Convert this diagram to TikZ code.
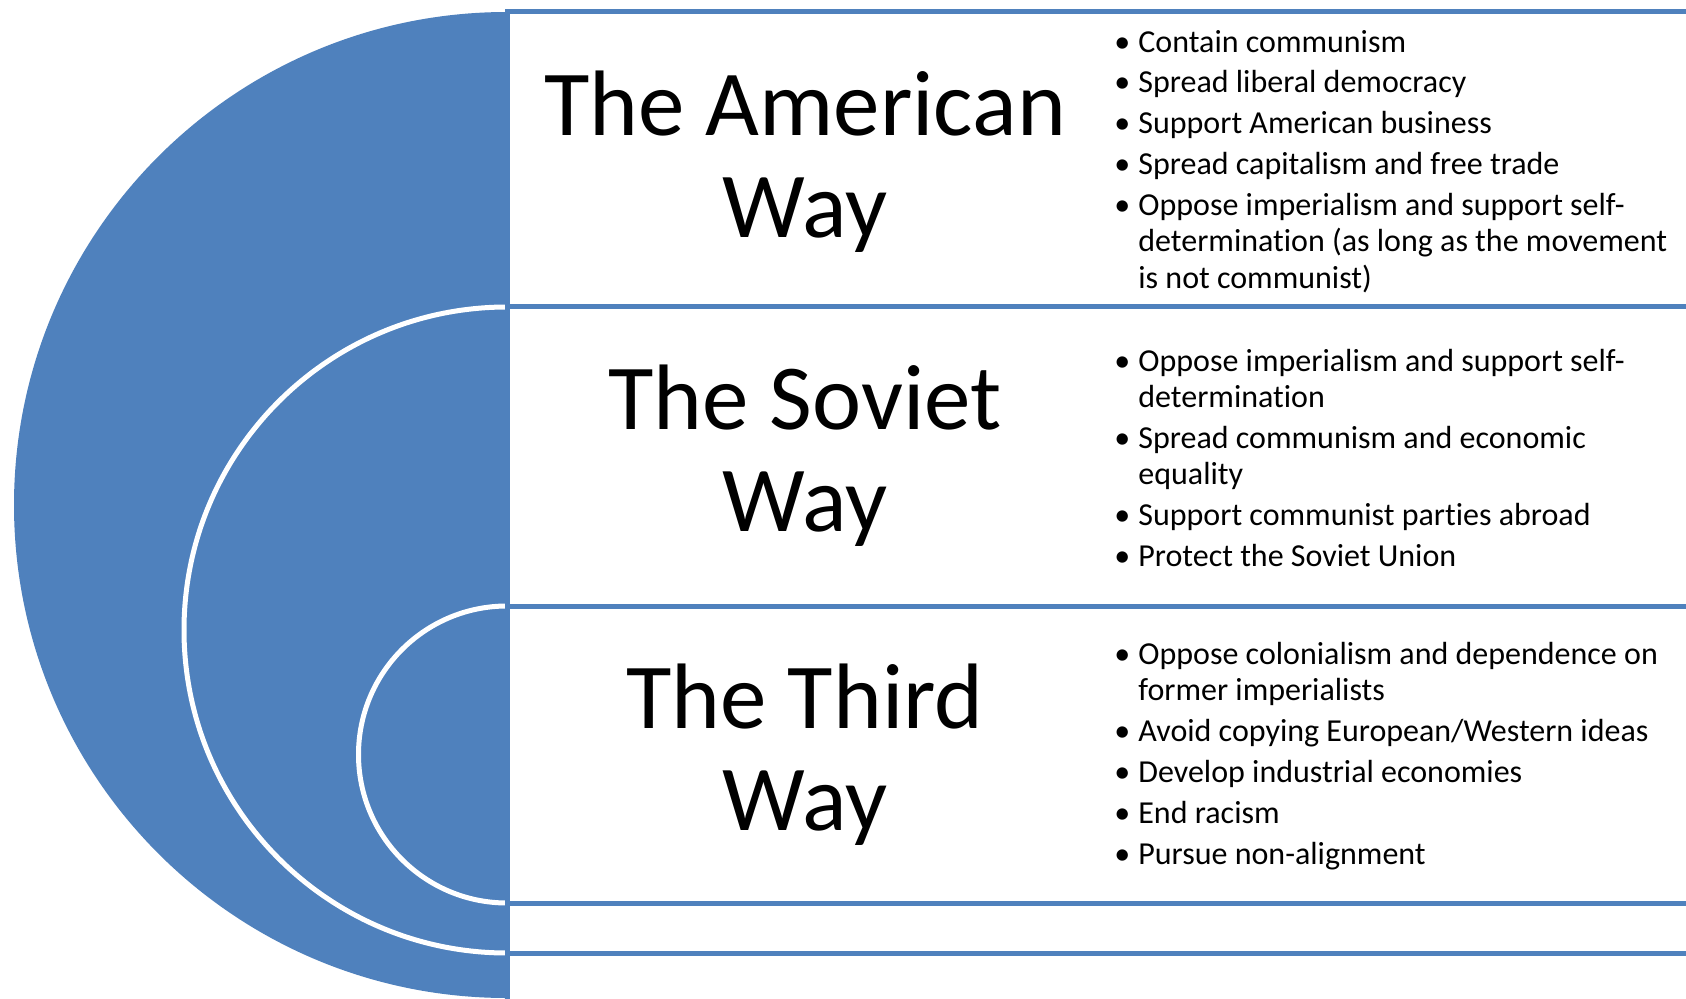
\documentclass[tikz,border=0pt]{standalone}
\usepackage{fontspec}
\setmainfont{Carlito}[Ligatures=NoCommon]
\definecolor{wayblue}{HTML}{4F81BD}
\newcommand\bitem[1]{\makebox[12pt][l]{\textbullet}#1}
\newcommand\bcont[1]{\hspace*{12pt}#1}

\begin{document}
\begin{tikzpicture}[x=0.5pt, y=0.5pt,
  band/.style={draw=wayblue, line width=2.5pt, fill=white},
  ring/.style={fill=wayblue, draw=white, line width=2.5pt},
  way/.style={anchor=base, align=center, inner sep=0pt, font=\fontsize{46.5}{51}\selectfont},
  points/.style={anchor=base west, align=left, inner sep=0pt, font=\fontsize{16}{18}\selectfont}]
 \clip (0,0) rectangle (1686,998);
 \fill[white] (0,0) rectangle (1686,998);
 % nested half discs
 \fill[wayblue] (507,986) arc[start angle=90, end angle=270, radius=493] -- cycle;
 \path[ring] (507,691) arc[start angle=90, end angle=270, radius=323];
 \path[ring] (507,392) arc[start angle=90, end angle=270, radius=148.5];
 % bands
 \foreach \top/\bot in {986/691, 691/392, 392/95, 95/45, 45/-20}
   \draw[band] (507,\top) rectangle (1700,\bot);
 \node[way] (american) at (805,760.5) {The American\\Way};
 \node[way] (soviet) at (805,466.5) {The Soviet\\Way};
 \node[way] (third) at (805,167.5) {The Third\\Way};
 \node[points] (americanpts) at (1114,710) {\bitem{Contain communism}\\[2.5pt]
   \bitem{Spread liberal democracy}\\[2.5pt]
   \bitem{Support American business}\\[2.5pt]
   \bitem{Spread capitalism and free trade}\\[2.5pt]
   \bitem{Oppose imperialism and support self-}\\
   \bcont{determination (as long as the movement}\\
   \bcont{is not communist)}};
 \node[points] (sovietpts) at (1114,432) {\bitem{Oppose imperialism and support self-}\\
   \bcont{determination}\\[2.5pt]
   \bitem{Spread communism and economic}\\
   \bcont{equality}\\[2.5pt]
   \bitem{Support communist parties abroad}\\[2.5pt]
   \bitem{Protect the Soviet Union}};
 \node[points] (thirdpts) at (1114,134) {\bitem{Oppose colonialism and dependence on}\\
   \bcont{former imperialists}\\[2.5pt]
   \bitem{Avoid copying European/Western ideas}\\[2.5pt]
   \bitem{Develop industrial economies}\\[2.5pt]
   \bitem{End racism}\\[2.5pt]
   \bitem{Pursue non-alignment}};
\end{tikzpicture}
\end{document}
